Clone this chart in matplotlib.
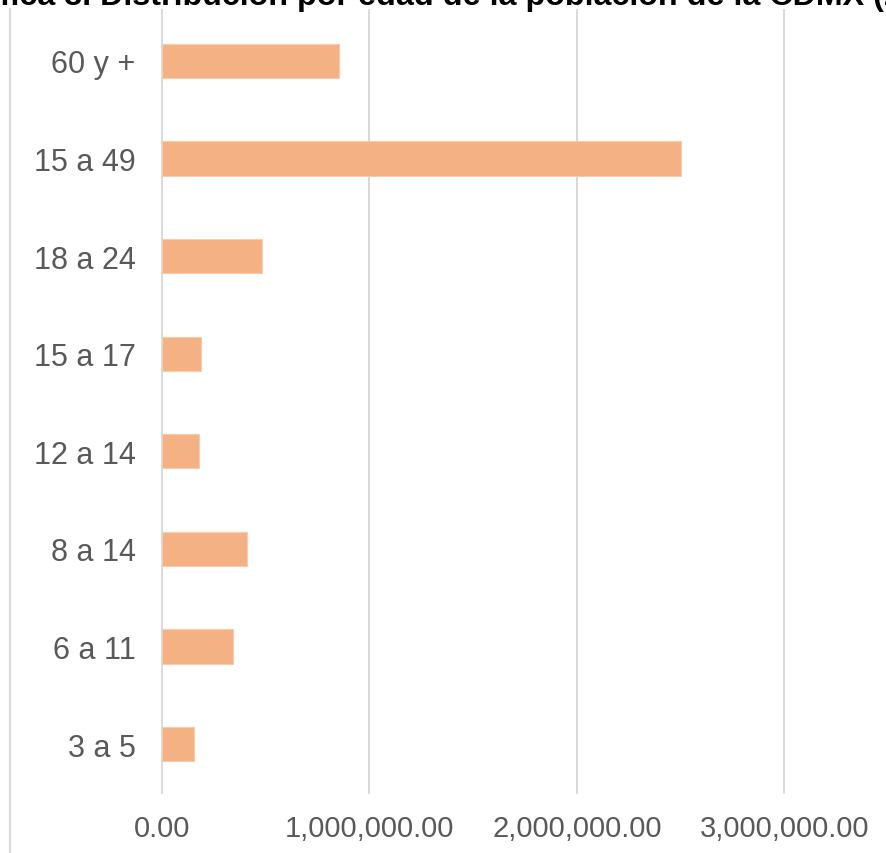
import matplotlib
matplotlib.use("Agg")
import matplotlib.pyplot as plt
from matplotlib.ticker import FuncFormatter
from matplotlib.lines import Line2D

categories = ["3 a 5", "6 a 11", "8 a 14", "12 a 14", "15 a 17", "18 a 24", "15 a 49", "60 y +"]
values = [154000, 342000, 410000, 178000, 188000, 482000, 2504000, 854000]
xticks = [0, 1000000, 2000000, 3000000]
title_prefix = "Gráfica 3. "
title_main = "Distribución por edad de la población de la CDMX"
title_suffix = " (2020)"

plt.rcParams['font.family'] = ['Liberation Sans', 'DejaVu Sans']

W, H = 886, 854
fig = plt.figure(figsize=(W / 100, H / 100), dpi=100)
ax = fig.add_axes([162 / W, 1 - 794 / H, 1 - 162 / W, (794 - 13) / H])

ypos = list(range(len(categories)))
ax.barh(ypos, values, height=0.35, color="#F4B183", edgecolor="#F8CBAD", linewidth=0.8, zorder=3)
ax.set_ylim(-0.5, len(categories) - 0.5)
ax.set_xlim(0, 3.49e6)
ax.set_yticks(ypos)
ax.set_yticklabels(categories)
ax.set_xticks(xticks)
ax.xaxis.set_major_formatter(FuncFormatter(lambda v, p: f"{v:,.2f}"))
ax.tick_params(axis="both", length=0, labelcolor="#595959")
ax.tick_params(axis="y", pad=19, labelsize=22)
ax.tick_params(axis="x", pad=15, labelsize=21)
ax.grid(axis="x", color="#D9D9D9", linewidth=1.3, zorder=0)
for s in ax.spines.values():
    s.set_visible(False)

for xv in xticks:
    ax.axvline(xv, ymin=0, ymax=1.002, color="#D9D9D9", linewidth=1.3, zorder=0, clip_on=False)

# left chart border
fig.add_artist(Line2D([10 / W, 10 / W], [0, 1 - 10 / H], transform=fig.transFigure, color="#D9D9D9", linewidth=1.5))

# title (cropped at top as in the reference): size & position so that the main part spans ~x 100..863
renderer = fig.canvas.get_renderer()
def text_width(s, fs):
    t = fig.text(0, 0, s, fontsize=fs, fontweight="bold")
    w = t.get_window_extent(renderer).width
    t.remove()
    return w

fs = 20.0
wm = text_width(title_main, fs)
fs = fs * 763.0 / wm
wp = text_width(title_prefix, fs)
x0 = 100 - wp
fig.text(x0 / W, 1 - 5 / H, title_prefix + title_main + title_suffix, ha="left", va="baseline",
         fontsize=fs, fontweight="bold", color="black")

fig.savefig("out.png", dpi=100)
